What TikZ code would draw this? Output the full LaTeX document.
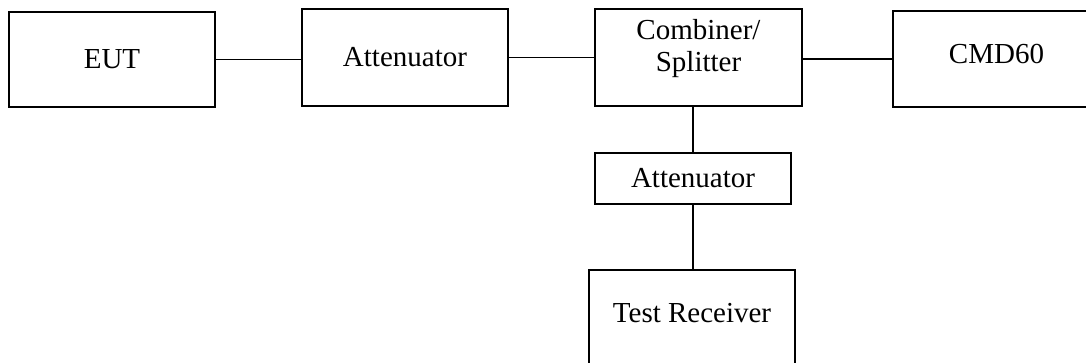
\documentclass[tikz,border=0pt]{standalone}
\usepackage{fontspec}
\setmainfont{Liberation Serif}
\begin{document}
\begin{tikzpicture}[x=1pt,y=-1pt,
  box/.style={draw,line width=1.8pt,inner sep=0pt,font=\fontsize{29}{32}\selectfont},
  lbl/.style={inner sep=0pt,align=center,font=\fontsize{29}{32}\selectfont},
  wire/.style={line width=1.8pt}]
\useasboundingbox (0,0) rectangle (1086,362);
\clip (0,0) rectangle (1086,362);
\node[box,minimum width=206pt,minimum height=95pt] (eut) at (112,59.5) {EUT};
\node[box,minimum width=206pt,minimum height=97pt] (att1) at (405,57.5) {Attenuator};
\node[box,minimum width=207pt,minimum height=97pt] (comb) at (698.5,57.5) {};
\node[lbl] (combt) at (698.5,49) {Combiner/\\Splitter};
\node[box,minimum width=207pt,minimum height=96pt] (cmd) at (996.5,59) {};
\node[lbl] (cmdt) at (996.5,54) {CMD60};
\node[box,minimum width=196pt,minimum height=51pt] (att2) at (693,178.5) {Attenuator};
\node[box,minimum width=206pt,minimum height=130pt,anchor=north] (tr) at (692,269) {};
\node[lbl] (trt) at (692,313.5) {Test Receiver};
\draw[wire] (eut.east) -- (eut.east -| att1.west);
\draw[wire] (att1.east) -- (att1.east -| comb.west);
\draw[wire] (cmd.west) -- (cmd.west -| comb.east);
\draw[wire] (att2.north) -- (att2.north |- comb.south);
\draw[wire] (att2.south) -- (att2.south |- tr.north);
\end{tikzpicture}
\end{document}
